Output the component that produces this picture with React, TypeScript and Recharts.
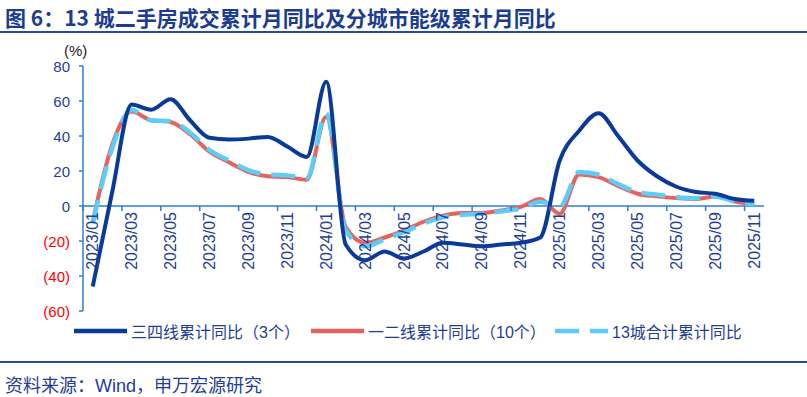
import { Line, LineChart, ReferenceLine, XAxis, YAxis } from "recharts";

const MONTHS = [
  "2023/01", "2023/02", "2023/03", "2023/04", "2023/05", "2023/06", "2023/07",
  "2023/08", "2023/09", "2023/10", "2023/11", "2023/12", "2024/01", "2024/02",
  "2024/03", "2024/04", "2024/05", "2024/06", "2024/07", "2024/08", "2024/09",
  "2024/10", "2024/11", "2024/12", "2025/01", "2025/02", "2025/03", "2025/04",
  "2025/05", "2025/06", "2025/07", "2025/08", "2025/09", "2025/10", "2025/11",
];

// 三四线累计同比（3个）
const TIER34 = [
  -46, 8, 58, 55, 61, 49, 39, 38, 38.5, 39.5, 34, 28, 71, -22, -31, -26, -30,
  -26, -21, -22, -23, -22, -21, -18, 26, 43, 53, 40, 26, 17, 11, 8, 7, 4, 3,
];

// 一二线累计同比（10个）
const TIER12 = [
  -9, 35, 54, 49, 48, 41, 31, 25, 19.5, 17, 16.5, 15, 51, -12, -21, -18, -14,
  -9, -5.5, -4, -4, -2.5, -0.5, 4, -4.5, 18, 16.5, 11.5, 7, 5.5, 4.5, 4, 5.5,
  2.5, 1,
];

// 13城合计累计同比
const CITY13 = [
  -10, 33, 55, 49, 48.5, 42, 32, 26, 20.5, 18, 17.5, 16, 53, -14, -23, -19,
  -15, -10, -6.5, -5, -4.5, -3, -1.5, 2.5, -0.5, 19.5, 18, 12.5, 8, 6.5, 5,
  4.5, 5.5, 2.5, 1,
];

const Y_TICKS = [-60, -40, -20, 0, 20, 40, 60, 80];
const Y_MIN = -60;
const Y_MAX = 80;

const data = MONTHS.map((month, i) => ({
  month,
  tier34: TIER34[i],
  tier12: TIER12[i],
  city13: CITY13[i],
}));

const W = 807;
const H = 397;
const PLOT_LEFT = 83;
const PLOT_RIGHT = 764;
const PLOT_TOP = 66;
const PLOT_BOTTOM = 311;
const Y_AXIS_W = 60;
const X_AXIS_H = 30;
const BAND = (PLOT_RIGHT - PLOT_LEFT) / MONTHS.length;
const ZERO_Y =
  PLOT_TOP + ((PLOT_BOTTOM - PLOT_TOP) * Y_MAX) / (Y_MAX - Y_MIN);

const NAVY = "#0a3a99";
const RED = "#e6625d";
const SKY = "#5ccdf6";
const AXIS = "#2b7fd0";
const TEXT_BLUE = "#1f3d99";
const RULE = "#1f4ea0";
const FONT = "'Liberation Sans', Arial, 'Noto Sans CJK SC', sans-serif";
const DASH = "24 11";

// month labels hang below the zero line (the category axis crosses at 0)
function MonthTick(props: any) {
  const { x, payload } = props;
  const idx = MONTHS.indexOf(payload.value);
  if (idx % 2 !== 0) return <g />;
  const edge = x - BAND / 2;
  const ty = ZERO_Y + 6;
  return (
    <g>
      <line x1={edge} x2={edge} y1={ZERO_Y} y2={ZERO_Y + 5} stroke={AXIS} strokeWidth={1.5} />
      <text
        x={x}
        y={ty}
        transform={`rotate(-90 ${x} ${ty})`}
        textAnchor="end"
        dominantBaseline="central"
        fill={TEXT_BLUE}
        fontSize={16}
        fontFamily={FONT}
      >
        {payload.value}
      </text>
    </g>
  );
}

function ValueTick(props: any) {
  const { x, y, payload } = props;
  const v = payload.value as number;
  return (
    <text
      x={x}
      y={y}
      textAnchor="end"
      dominantBaseline="central"
      fill={v < 0 ? "#ff0000" : TEXT_BLUE}
      fontSize={15}
      fontFamily={FONT}
    >
      {v < 0 ? `(${Math.abs(v)})` : v}
    </text>
  );
}

function LegendItem({
  left,
  color,
  dash,
  label,
}: {
  left: number;
  color: string;
  dash?: string;
  label: string;
}) {
  return (
    <div
      style={{
        position: "absolute",
        left,
        top: 321,
        height: 20,
        display: "flex",
        alignItems: "center",
        whiteSpace: "nowrap",
      }}
    >
      <svg width={53} height={20} style={{ marginRight: 4 }}>
        <line
          x1={0}
          x2={53}
          y1={10}
          y2={10}
          stroke={color}
          strokeWidth={4.5}
          strokeDasharray={dash}
        />
      </svg>
      <span style={{ color: TEXT_BLUE, fontSize: 16, fontFamily: FONT }}>
        {label}
      </span>
    </div>
  );
}

export default function App() {
  return (
    <div
      style={{
        position: "absolute",
        left: 0,
        top: 0,
        width: W,
        height: H,
        background: "#fff",
        fontFamily: FONT,
      }}
    >
      <div
        style={{
          position: "absolute",
          left: 5,
          top: 2,
          fontSize: 21,
          fontWeight: 700,
          color: "#1c3d8f",
          whiteSpace: "nowrap",
          fontFamily: "'Noto Sans CJK SC', sans-serif",
        }}
      >
        图 6：13 城二手房成交累计月同比及分城市能级累计月同比
      </div>
      <div
        style={{
          position: "absolute",
          left: 0,
          top: 31,
          width: W,
          height: 2,
          background: RULE,
        }}
      />
      <div
        style={{
          position: "absolute",
          left: 64,
          top: 42,
          fontSize: 15,
          color: "#222",
        }}
      >
        (%)
      </div>

      <div style={{ position: "absolute", left: 0, top: 0 }}>
        <LineChart
          width={W}
          height={H}
          data={data}
          margin={{
            top: PLOT_TOP,
            right: W - PLOT_RIGHT,
            bottom: H - PLOT_BOTTOM - X_AXIS_H,
            left: PLOT_LEFT - Y_AXIS_W,
          }}
        >
          <XAxis
            dataKey="month"
            interval={0}
            height={X_AXIS_H}
            axisLine={false}
            tickLine={false}
            tick={MonthTick}
            padding={{ left: BAND / 2, right: BAND / 2 }}
          />
          <YAxis
            type="number"
            domain={[Y_MIN, Y_MAX]}
            ticks={Y_TICKS}
            width={Y_AXIS_W}
            tickSize={4}
            tickMargin={9}
            axisLine={{ stroke: AXIS, strokeWidth: 1.5 }}
            tickLine={{ stroke: AXIS, strokeWidth: 1.5 }}
            tick={ValueTick}
          />
          <ReferenceLine y={0} stroke={AXIS} strokeWidth={1.5} />
          <Line
            type="monotone"
            dataKey="tier12"
            stroke={RED}
            strokeWidth={4}
            dot={false}
            isAnimationActive={false}
          />
          <Line
            type="monotone"
            dataKey="city13"
            stroke={SKY}
            strokeWidth={4.5}
            strokeDasharray={DASH}
            dot={false}
            isAnimationActive={false}
          />
          <Line
            type="monotone"
            dataKey="tier34"
            stroke={NAVY}
            strokeWidth={4}
            dot={false}
            isAnimationActive={false}
          />
        </LineChart>
      </div>

      <LegendItem left={74} color={NAVY} label="三四线累计同比（3个）" />
      <LegendItem left={311} color={RED} label="一二线累计同比（10个）" />
      <LegendItem left={555} color={SKY} dash={DASH} label="13城合计累计同比" />

      <div
        style={{
          position: "absolute",
          left: 0,
          top: 361,
          width: W,
          height: 2,
          background: RULE,
        }}
      />
      <div
        style={{
          position: "absolute",
          left: 5,
          top: 371,
          fontSize: 18,
          color: TEXT_BLUE,
          whiteSpace: "nowrap",
        }}
      >
        资料来源：Wind，申万宏源研究
      </div>
    </div>
  );
}
